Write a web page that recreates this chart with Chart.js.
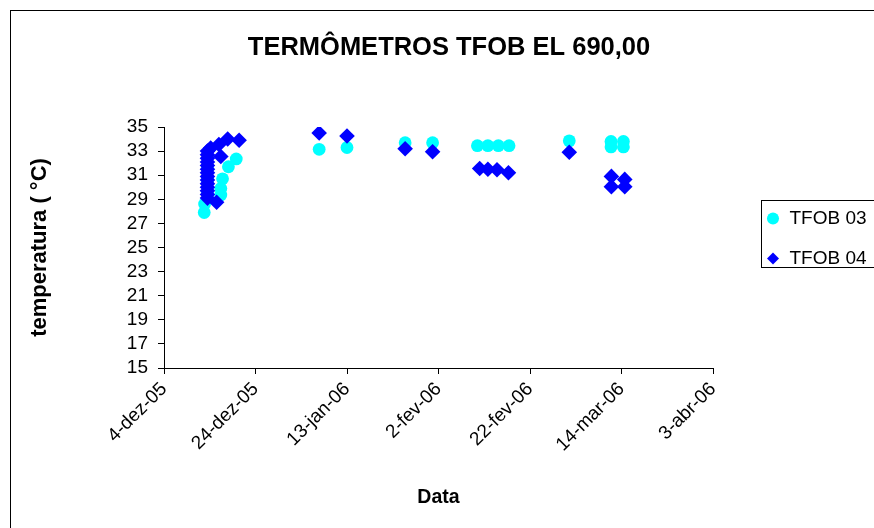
<!DOCTYPE html>
<html>
<head>
<meta charset="utf-8">
<title>Termômetros TFOB EL 690,00</title>
<script src="https://cdn.jsdelivr.net/npm/chart.js@4.4.0/dist/chart.umd.min.js"></script>
<style>
  html, body { margin: 0; padding: 0; background: #fff; overflow: hidden; }
  #wrap { position: relative; width: 874px; height: 528px; overflow: hidden; }
  canvas { display: block; }
</style>
</head>
<body>
<div id="wrap"><canvas id="grafico" width="898" height="528"></canvas></div>
<script>
// leituras (data aaaa-mm-dd hh:mm, temperatura em °C)
const tfob03Datas = [
  '2005-12-12 19:00', '2005-12-12 21:00', '2005-12-13 12:00', '2005-12-13 12:00', '2005-12-13 12:00',
  '2005-12-16 10:00', '2005-12-16 10:00', '2005-12-16 19:00', '2005-12-18 02:00', '2005-12-19 19:00',
  '2006-01-06 22:00', '2006-01-13 00:00', '2006-01-25 17:00', '2006-01-31 17:00',
  '2006-02-10 12:00', '2006-02-12 19:00', '2006-02-15 02:00', '2006-02-17 10:00',
  '2006-03-02 14:00', '2006-03-11 17:00', '2006-03-11 17:00', '2006-03-14 10:00', '2006-03-14 10:00'
];
const tfob03Temp = [
  27.9, 28.6, 29.6, 30.6, 31.6,
  29.35, 29.9, 30.7, 31.7, 32.35,
  33.15, 33.3, 33.7, 33.7,
  33.45, 33.45, 33.45, 33.45,
  33.85, 33.8, 33.35, 33.8, 33.35
];

const tfob04Datas = [
  '2005-12-13 12:00', '2005-12-13 12:00', '2005-12-13 12:00', '2005-12-13 12:00', '2005-12-13 12:00',
  '2005-12-13 12:00', '2005-12-13 12:00', '2005-12-13 12:00', '2005-12-13 12:00', '2005-12-13 12:00',
  '2005-12-13 12:00', '2005-12-13 12:00', '2005-12-13 12:00', '2005-12-13 12:00',
  '2005-12-14 05:00', '2005-12-15 12:00', '2005-12-16 00:00', '2005-12-16 10:00', '2005-12-17 22:00', '2005-12-20 10:00',
  '2006-01-06 22:00', '2006-01-13 00:00', '2006-01-25 17:00', '2006-01-31 17:00',
  '2006-02-11 00:00', '2006-02-12 19:00', '2006-02-14 19:00', '2006-02-17 07:00',
  '2006-03-02 14:00', '2006-03-11 19:00', '2006-03-11 19:00', '2006-03-14 17:00', '2006-03-14 17:00'
];
const tfob04Temp = [
  33.0, 32.7, 32.4, 32.1, 31.8,
  31.5, 31.2, 30.9, 30.6, 30.3,
  30.0, 29.7, 29.4, 29.1,
  33.25, 28.75, 33.55, 32.55, 34.0, 33.9,
  34.5, 34.25, 33.2, 32.95,
  31.55, 31.5, 31.45, 31.2,
  32.9, 30.9, 30.05, 30.65, 30.05
];

// eixo X: dias contados a partir de 4-dez-05, marcas a cada 20 dias
const inicioEixo = '2005-12-04 00:00';
const rotulosX = ['4-dez-05', '24-dez-05', '13-jan-06', '2-fev-06', '22-fev-06', '14-mar-06', '3-abr-06'];
const passoX = 20;

const DIA = 86400000;
function instante(s) {
  const [d, h] = s.split(' ');
  const [a, m, dd] = d.split('-').map(Number);
  const [hh, mm] = (h || '0:00').split(':').map(Number);
  return Date.UTC(a, m - 1, dd, hh, mm);
}
const t0 = instante(inicioEixo);
const pontos = (datas, temps) => datas.map((s, i) => ({ x: (instante(s) - t0) / DIA, y: temps[i] }));

Chart.defaults.font.family = '"Liberation Sans", Arial, sans-serif';
Chart.defaults.color = '#000';

// moldura do gráfico e da legenda (estilo Excel)
const molduras = {
  id: 'molduras',
  afterLayout(chart) {
    const lg = chart.legend;
    const dx = 745 - lg.left;
    lg.left += dx; lg.right += dx;
    lg.top -= 25.5; lg.bottom -= 25.5;
  },
  afterDraw(chart) {
    const ctx = chart.ctx;
    ctx.save();
    ctx.strokeStyle = '#000';
    ctx.lineWidth = 1;
    ctx.strokeRect(10.5, 10.5, chart.width + 20, chart.height + 20);
    ctx.strokeRect(761.5, 200.5, 300, 67);
    ctx.restore();
  }
};

new Chart(document.getElementById('grafico'), {
  type: 'scatter',
  data: {
    datasets: [
      {
        label: 'TFOB 03',
        data: pontos(tfob03Datas, tfob03Temp),
        pointStyle: 'circle',
        pointRadius: 6.4,
        backgroundColor: '#00FFFF',
        borderColor: '#00FFFF',
        borderWidth: 0,
        order: 1
      },
      {
        label: 'TFOB 04',
        data: pontos(tfob04Datas, tfob04Temp),
        pointStyle: 'rectRot',
        pointRadius: 7.8,
        backgroundColor: '#0000FF',
        borderColor: '#0000FF',
        borderWidth: 0,
        order: 0
      }
    ]
  },
  options: {
    responsive: false,
    animation: false,
    layout: { padding: 0 },
    plugins: {
      title: {
        display: true,
        text: 'TERMÔMETROS TFOB EL 690,00',
        font: { size: 25.5, weight: 'bold' },
        color: '#000',
        padding: { top: 33, bottom: 63.4 }
      },
      legend: {
        position: 'right',
        labels: {
          usePointStyle: true,
          boxWidth: 14,
          boxHeight: 8.5,
          padding: 21,
          font: { size: 19 },
          color: '#000',
          sort: (a, b) => a.datasetIndex - b.datasetIndex
        }
      },
      tooltip: { enabled: false }
    },
    scales: {
      x: {
        type: 'linear',
        position: 'bottom',
        min: 0,
        max: passoX * (rotulosX.length - 1),
        afterFit: s => { s.height = 160; s.paddingRight = 185; },
        ticks: {
          stepSize: passoX,
          autoSkip: false,
          minRotation: 45,
          maxRotation: 45,
          padding: 4,
          font: { size: 19 },
          color: '#000',
          callback: v => rotulosX[Math.round(v / passoX)]
        },
        grid: { drawOnChartArea: false, drawTicks: true, tickLength: 6, color: '#000' },
        border: { color: '#000', width: 1 },
        title: {
          display: true,
          text: 'Data',
          font: { size: 19.5, weight: 'bold' },
          color: '#000',
          padding: { top: 4, bottom: 19 }
        }
      },
      y: {
        min: 15,
        max: 35,
        afterFit: s => { s.width = 164; },
        ticks: { stepSize: 2, autoSkip: false, padding: 10, font: { size: 19 }, color: '#000' },
        grid: { drawOnChartArea: false, drawTicks: true, tickLength: 6, color: '#000' },
        border: { color: '#000', width: 1 },
        title: {
          display: true,
          text: 'temperatura ( °C)',
          font: { size: 22, weight: 'bold' },
          color: '#000',
          padding: { top: 27, bottom: 4 }
        }
      }
    }
  },
  plugins: [molduras]
});
</script>
</body>
</html>
